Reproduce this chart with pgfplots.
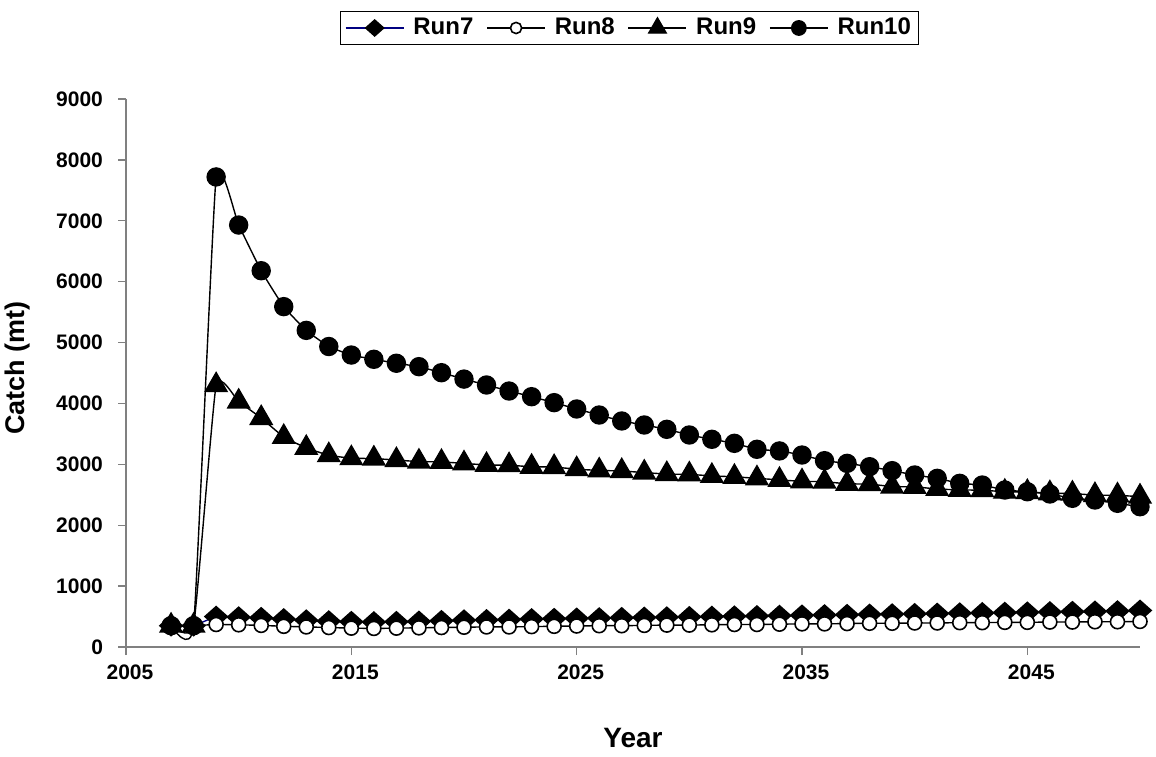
\documentclass[border=0pt]{standalone}
\usepackage{fontspec}
\setmainfont{Liberation Sans}
\usepackage{pgfplots}
\pgfplotsset{compat=1.18}

\pgfplotsset{
  legimg/.style={legend image code/.code={
    \draw[mark repeat=2,mark phase=2,every mark/.append style={scale=0.8}]
      plot coordinates {(0pt,0pt) (14.5pt,0pt) (29pt,0pt)};}},
}

\begin{document}
\begin{tikzpicture}[font=\bfseries]
\useasboundingbox (0,0) rectangle (578pt,378pt);
\begin{axis}[
    at={(63pt,54.5pt)}, anchor=south west,
    scale only axis, width=507pt, height=274pt,
    xmin=2005, xmax=2050, ymin=0, ymax=9000,
    axis lines*=left,
    axis line style={draw=gray, line width=0.7pt},
    xtick={2005,2015,2025,2035,2045},
    ytick={0,1000,...,9000},
    tick align=outside, major tick length=4pt,
    tick style={draw=gray, line width=0.7pt},
    /pgf/number format/1000 sep={},
    /pgf/number format/assume math mode=true,
    ticklabel style={font=\fontsize{10.5}{12}\bfseries},
    yticklabel style={xshift=-4pt},
    xticklabel style={yshift=-1.5pt, xshift=2pt},
    xlabel={Year}, ylabel={Catch (mt)},
    xlabel style={font=\fontsize{14}{16}\bfseries, at={(axis description cs:0.5,-0.166)}, anchor=center},
    ylabel style={font=\fontsize{13.5}{16}\bfseries, at={(axis description cs:-0.1065,0.509)}, anchor=center},
    legend columns=4,
    legend style={at={(axis description cs:0.497,1.1296)}, anchor=center,
      draw=black, line width=0.5pt, font=\fontsize{12}{14}\bfseries,
      inner xsep=2pt, inner ysep=1.5pt,
      /tikz/every odd column/.append style={column sep=2.5pt},
      /tikz/every even column/.append style={column sep=4.5pt}},
    legimg,
]
% Run7
\addplot[smooth, tension=0.2, draw={rgb,255:red,0;green,0;blue,128}, line width=0.7pt,
  mark=diamond*, mark size=5pt,
  mark options={draw=black, fill=black, xscale=1.5}] coordinates {
(2007,350) (2008,350) (2009,500) (2010,490) (2011,480) (2012,460) (2013,440)
(2014,425) (2015,415) (2016,410) (2017,415) (2018,420) (2019,430) (2020,440)
(2021,445) (2022,450) (2023,460) (2024,465) (2025,470) (2026,475) (2027,480)
(2028,485) (2029,490) (2030,495) (2031,500) (2032,505) (2033,510) (2034,515)
(2035,520) (2036,525) (2037,530) (2038,535) (2039,540) (2040,545) (2041,550)
(2042,555) (2043,560) (2044,565) (2045,570) (2046,575) (2047,580) (2048,585)
(2049,590) (2050,600)};
\addlegendentry{Run7}
% Run8
\addplot[smooth, tension=0.2, draw=black, line width=0.7pt,
  mark=*, mark size=3.5pt,
  mark options={draw=black, fill=white, line width=0.8pt}] coordinates {
(2007,350) (2008,350) (2009,370) (2010,365) (2011,355) (2012,340) (2013,330)
(2014,320) (2015,310) (2016,305) (2017,310) (2018,315) (2019,320) (2020,325)
(2021,330) (2022,330) (2023,335) (2024,340) (2025,345) (2026,350) (2027,350)
(2028,355) (2029,360) (2030,360) (2031,365) (2032,370) (2033,370) (2034,375)
(2035,380) (2036,380) (2037,385) (2038,390) (2039,390) (2040,395) (2041,395)
(2042,400) (2043,400) (2044,405) (2045,405) (2046,410) (2047,410) (2048,415)
(2049,415) (2050,420)};
\addlegendentry{Run8}
% Run9
\addplot[smooth, tension=0.25, draw=black, line width=0.7pt,
  mark=triangle*, mark size=6.3pt,
  mark options={draw=black, fill=black}] coordinates {
(2007,350) (2008,350) (2009,4300) (2010,4030) (2011,3760) (2012,3450) (2013,3270)
(2014,3150) (2015,3100) (2016,3095) (2017,3070) (2018,3045) (2019,3040) (2020,3015)
(2021,2990) (2022,2985) (2023,2960) (2024,2955) (2025,2920) (2026,2900) (2027,2890)
(2028,2865) (2029,2840) (2030,2835) (2031,2810) (2032,2795) (2033,2770) (2034,2745)
(2035,2720) (2036,2715) (2037,2680) (2038,2675) (2039,2635) (2040,2630) (2041,2595)
(2042,2580) (2043,2575) (2044,2550) (2045,2545) (2046,2525) (2047,2520) (2048,2495)
(2049,2490) (2050,2470)};
\addlegendentry{Run9}
% Run10
\addplot[smooth, tension=0.25, draw=black, line width=0.7pt,
  mark=*, mark size=4.5pt,
  mark options={draw=black, fill=black}] coordinates {
(2007,350) (2008,350) (2009,7720) (2010,6930) (2011,6180) (2012,5590) (2013,5200)
(2014,4935) (2015,4795) (2016,4725) (2017,4660) (2018,4604) (2019,4505) (2020,4400)
(2021,4303) (2022,4204) (2023,4111) (2024,4013) (2025,3909) (2026,3810) (2027,3712)
(2028,3646) (2029,3575) (2030,3482) (2031,3411) (2032,3345) (2033,3247) (2034,3220)
(2035,3153) (2036,3060) (2037,3016) (2038,2961) (2039,2896) (2040,2825) (2041,2770)
(2042,2688) (2043,2660) (2044,2578) (2045,2550) (2046,2513) (2047,2442) (2048,2414)
(2049,2360) (2050,2304)};
\addlegendentry{Run10}
\end{axis}
\end{tikzpicture}
\end{document}
